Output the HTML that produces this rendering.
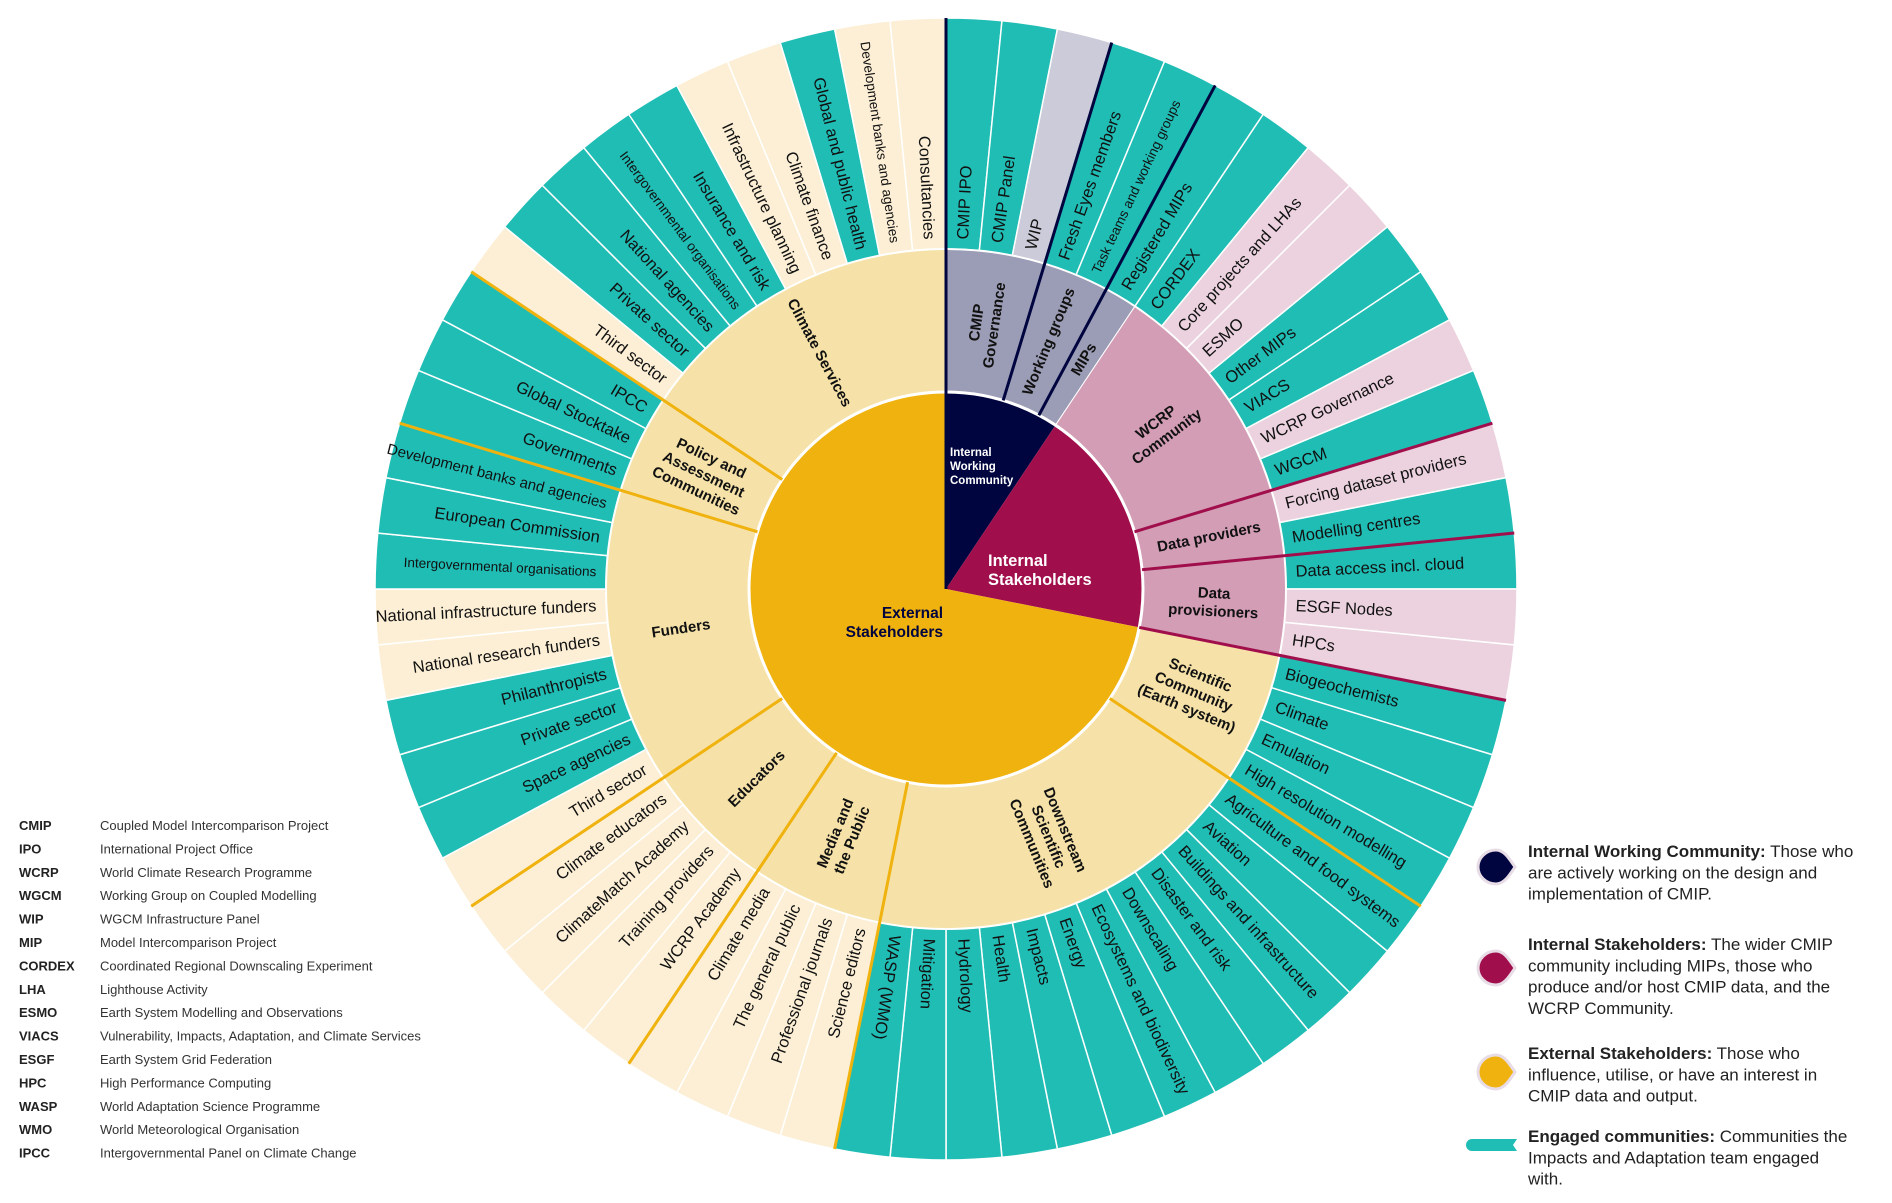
<!DOCTYPE html>
<html><head><meta charset="utf-8">
<style>
html,body{margin:0;padding:0;background:#fff;}
svg{display:block;font-family:"Liberation Sans",sans-serif;}
</style></head>
<body>
<svg id="chart" width="1892" height="1203" viewBox="0 0 1892 1203" xmlns="http://www.w3.org/2000/svg">
<g id="rings"></g>
<g id="abbr"></g>
<g id="legend"></g>
</svg>
<script>
const topNames = ['Internal Working Community','Internal Stakeholders','External Stakeholders'];
const midNames = ['CMIP\nGovernance','Working groups','MIPs','WCRP\nCommunity','Data providers','Data\nprovisioners','Scientific\nCommunity\n(Earth system)','Downstream\nScientific\nCommunities','Media and\nthe Public','Educators','Funders','Policy and\nAssessment\nCommunities','Climate Services'];
const midTop = [0,0,0,1,1,1,2,2,2,2,2,2,2];
const leafNames = ['CMIP IPO','CMIP Panel','WIP','Fresh Eyes members','Task teams and working groups','Registered MIPs',
'CORDEX','Core projects and LHAs','ESMO','Other MIPs','VIACS','WCRP Governance','WGCM',
'Forcing dataset providers','Modelling centres',
'Data access incl. cloud','ESGF Nodes','HPCs',
'Biogeochemists','Climate','Emulation','High resolution modelling',
'Agriculture and food systems','Aviation','Buildings and infrastructure','Disaster and risk','Downscaling','Ecosystems and biodiversity','Energy','Impacts','Health','Hydrology','Mitigation','WASP (WMO)',
'Science editors','Professional journals','The general public','Climate media',
'WCRP Academy','Training providers','ClimateMatch Academy','Climate educators',
'Third sector','Space agencies','Private sector','Philanthropists','National research funders','National infrastructure funders','Intergovernmental organisations','European Commission','Development banks and agencies',
'Governments','Global Stocktake','IPCC',
'Third sector','Private sector','National agencies','Intergovernmental organisations','Insurance and risk','Infrastructure planning','Climate finance','Global and public health','Development banks and agencies','Consultancies'];
const leafMid = [0,0,0,1,1,2, 3,3,3,3,3,3,3, 4,4, 5,5,5, 6,6,6,6, 7,7,7,7,7,7,7,7,7,7,7,7, 8,8,8,8, 9,9,9,9, 10,10,10,10,10,10,10,10,10, 11,11,11, 12,12,12,12,12,12,12,12,12,12];
const leafValue = leafNames.map(()=>1);
const leafEngaged = [1,1,0,1,1,1, 1,0,0,1,1,0,1, 0,1, 1,0,0, 1,1,1,1, 1,1,1,1,1,1,1,1,1,1,1,1, 0,0,0,0, 0,0,0,0, 0,1,1,1,0,0,1,1,1, 1,1,1, 0,1,1,1,1,0,0,1,0,0];

const CX=946, CY=589, R0=197, R1=340, R2=571;
const NS='http://www.w3.org/2000/svg';
const topFill=['#00053f','#a10e4c','#f0b20e'];
const topLine=['#00053f','#a10e4c','#f0b20e'];
const midFill=['#9b9cb5','#d29db5','#f6e2a8'];
const leafLight=['#cbcbd9','#ebd2de','#fcefd5'];
const TEAL='#20bdb5';
const total=leafValue.reduce((a,b)=>a+b,0);
function ang(v){return v/total*360;}
function pt(r,a){const t=a*Math.PI/180;return [CX+r*Math.sin(t),CY-r*Math.cos(t)];}
function wedge(r0,r1,a0,a1){
  const L=(a1-a0)>180?1:0;
  const p1=pt(r1,a0),p2=pt(r1,a1);
  if(r0<=0) return `M${CX},${CY}L${p1}A${r1},${r1} 0 ${L} 1 ${p2}Z`;
  const p3=pt(r0,a1),p4=pt(r0,a0);
  return `M${p1}A${r1},${r1} 0 ${L} 1 ${p2}L${p3}A${r0},${r0} 0 ${L} 0 ${p4}Z`;
}
const rings=document.getElementById('rings');
function mk(tag,attrs,parent){const e=document.createElementNS(NS,tag);for(const k in attrs)e.setAttribute(k,attrs[k]);(parent||rings).appendChild(e);return e;}

const leafA0=[],leafA1=[];let acc=0;
leafValue.forEach((v,i)=>{leafA0.push(ang(acc));acc+=v;leafA1.push(ang(acc));});
const midA0=[],midA1=[];
midNames.forEach((n,m)=>{const idx=leafMid.map((x,i)=>x===m?i:-1).filter(i=>i>=0);midA0.push(leafA0[idx[0]]);midA1.push(leafA1[idx[idx.length-1]]);});
const topA0=[],topA1=[];
topNames.forEach((n,t)=>{const ms=midTop.map((x,i)=>x===t?i:-1).filter(i=>i>=0);topA0.push(midA0[ms[0]]);topA1.push(midA1[ms[ms.length-1]]);});

leafNames.forEach((name,i)=>{
  const t=midTop[leafMid[i]];
  const p=mk('path',{d:wedge(R1,R2,leafA0[i],leafA1[i]),fill:leafEngaged[i]?TEAL:leafLight[t],stroke:'#fff','stroke-width':1.5});
  
  
});
midNames.forEach((n,m)=>{
  const p=mk('path',{d:wedge(R0,R1,midA0[m],midA1[m]),fill:midFill[midTop[m]],stroke:'#fff','stroke-width':1});
  
  
});
topNames.forEach((n,t)=>{
  const p=mk('path',{d:wedge(0,R0,topA0[t],topA1[t]),fill:topFill[t]});
  
  
});
const c1=mk('circle',{cx:CX,cy:CY,r:R0,fill:'none',stroke:'#fff','stroke-width':3});


const c2=mk('circle',{cx:CX,cy:CY,r:R1,fill:'none',stroke:'#fff','stroke-width':2});


midNames.forEach((n,m)=>{
  const t=midTop[m];
  const a=midA0[m];
  const isTopStart = topA0[t]===a;
  let col=topLine[t], r0=R0;
  if(isTopStart){ if(t===0){r0=0;} else if(t===1) return; else col=topLine[1]; }
  const p0=pt(r0,a),p1=pt(R2,a);
  const l=mk('line',{x1:p0[0],y1:p0[1],x2:p1[0],y2:p1[1],stroke:col,'stroke-width':3});
  
  
});
const smallLeaf={'Development banks and agencies':13.5,'Intergovernmental organisations':13.5,'Task teams and working groups':13.5};
leafNames.forEach((name,i)=>{
  const a=(leafA0[i]+leafA1[i])/2;
  const right=a<191.25;
  const p=pt(350,a);
  const rot=right?a-90:a+90;
  let fs=smallLeaf[name]||16.5;
  if(i===50) fs=15;
  const tx=mk('text',{x:p[0],y:p[1],'font-size':fs,fill:'#111','text-anchor':right?'start':'end','dominant-baseline':'central',transform:`rotate(${rot} ${p[0]} ${p[1]})`});
  tx.textContent=name;
  
  
});
midNames.forEach((n,m)=>{
  const a=(midA0[m]+midA1[m])/2;
  const right=a<191.25;
  const p=pt(268,a);
  const rot=right?a-90:a+90;
  const lines=n.split('\n');
  const tx=mk('text',{x:p[0],y:p[1],'font-size':15,'font-weight':'bold',fill:'#111','text-anchor':'middle',transform:`rotate(${rot} ${p[0]} ${p[1]})`});
  lines.forEach((ln,k)=>{const s=mk('tspan',{x:p[0],y:p[1]+(k-(lines.length-1)/2)*18+5},tx);s.textContent=ln;});
  
  
});
function txt(x,y,s,attrs,name){const e=mk('text',Object.assign({x:x,y:y},attrs));e.textContent=s;return e;}
['Internal','Working','Community'].forEach((s,k)=>txt(950,456+k*14,s,{'font-size':11.5,'font-weight':'bold',fill:'#fff'},'internal-working-community-label'));
['Internal','Stakeholders'].forEach((s,k)=>txt(988,566+k*19,s,{'font-size':16.5,'font-weight':'bold',fill:'#fff'},'internal-stakeholders-label'));
['External','Stakeholders'].forEach((s,k)=>txt(943,618+k*19,s,{'font-size':15.5,'font-weight':'bold',fill:'#00053f','text-anchor':'end'},'external-stakeholders-label'));

const abbrKeys=['CMIP','IPO','WCRP','WGCM','WIP','MIP','CORDEX','LHA','ESMO','VIACS','ESGF','HPC','WASP','WMO','IPCC'];
const abbrVals=['Coupled Model Intercomparison Project','International Project Office','World Climate Research Programme','Working Group on Coupled Modelling','WGCM Infrastructure Panel','Model Intercomparison Project','Coordinated Regional Downscaling Experiment','Lighthouse Activity','Earth System Modelling and Observations','Vulnerability, Impacts, Adaptation, and Climate Services','Earth System Grid Federation','High Performance Computing','World Adaptation Science Programme','World Meteorological Organisation','Intergovernmental Panel on Climate Change'];
const ab=document.getElementById('abbr');
abbrKeys.forEach((k,i)=>{
  const y=830+i*23.4;
  const a=mk('text',{x:19,y:y,'font-size':13,'font-weight':'bold',fill:'#222'},ab);a.textContent=k;
  
  
  const b=mk('text',{x:100,y:y,'font-size':13,fill:'#333'},ab);b.textContent=abbrVals[i];
  
  
});

const lg=document.getElementById('legend');
const legBold=['Internal Working Community:','Internal Stakeholders:','External Stakeholders:','Engaged communities:'];
const legLines=[
 [' Those who','are actively working on the design and','implementation of CMIP.'],
 [' The wider CMIP','community including MIPs, those who','produce and/or host CMIP data, and the','WCRP Community.'],
 [' Those who','influence, utilise, or have an interest in','CMIP data and output.'],
 [' Communities the','Impacts and Adaptation team engaged','with.']];
const legY=[857,950,1059,1142];
const legIconY=[867,968,1072,1145];
const legCol=['#00053f','#a10e4c','#f0b20e',TEAL];
legBold.forEach((b,i)=>{
  const x=1528;
  if(i<3){
    const cy=legIconY[i];
    const ic=mk('path',{d:`M1478,${cy}a18,17 0 0 1 18,-17c8,0 13,8 19,17c-6,9 -11,17 -19,17a18,17 0 0 1 -18,-17Z`,fill:legCol[i],stroke:'#e8dde6','stroke-width':3},lg);
    
    
  } else {
    const ic=mk('path',{d:`M1472,1139h45l-4,6l4,6h-45a6,6 0 0 1 0,-12Z`,fill:TEAL},lg);
    
    
  }
  const t=mk('text',{x:x,y:legY[i],'font-size':17,fill:'#222'},lg);
  const s=mk('tspan',{'font-weight':'bold'},t);s.textContent=b;
  const s2=mk('tspan',{},t);s2.textContent=legLines[i][0];
  
  
  legLines[i].slice(1).forEach((ln,k)=>{
    const t2=mk('text',{x:x,y:legY[i]+(k+1)*21.3,'font-size':17,fill:'#222'},lg);t2.textContent=ln;
    
    
  });
});
</script>
</body></html>
